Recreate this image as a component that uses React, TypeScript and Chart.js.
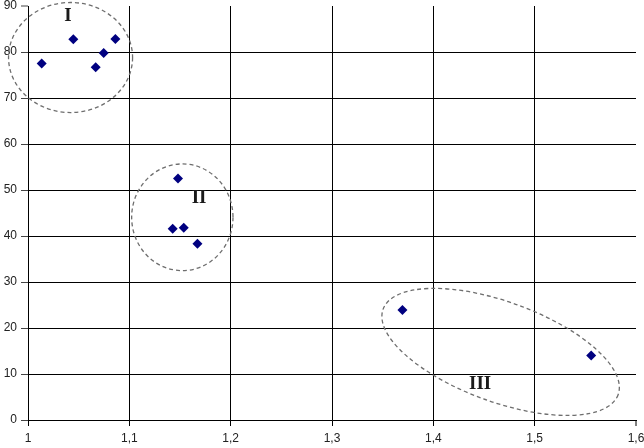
import React, { useEffect, useRef } from "react";
import { Chart, registerables } from "chart.js";

Chart.register(...registerables);

const xValues = [1.0135, 1.0447, 1.0668, 1.0747, 1.0862, 1.148, 1.1428, 1.1537, 1.1672, 1.3695, 1.5558];
const yValues = [77.5, 82.75, 76.7, 79.8, 82.8, 52.5, 41.6, 41.8, 38.3, 23.9, 14.0];

const xTicks = [1, 1.1, 1.2, 1.3, 1.4, 1.5, 1.6];
const xTickLabels = ["1", "1,1", "1,2", "1,3", "1,4", "1,5", "1,6"];
const yTicks = [0, 10, 20, 30, 40, 50, 60, 70, 80, 90];
const yTickLabels = ["0", "10", "20", "30", "40", "50", "60", "70", "80", "90"];

const groupLabels = ["I", "II", "III"];
const groupLabelX = [1.0395, 1.1688, 1.4462];
const groupLabelY = [87.8, 48.3, 7.8];

const ellipsePlugin = {
  id: "groups",
  beforeDatasetsDraw(chart: any) {
    const ctx = chart.ctx;
    const xs = chart.scales.x;
    const ys = chart.scales.y;
    const pxX = (v: number) => xs.getPixelForValue(v);
    const pxY = (v: number) => ys.getPixelForValue(v);
    const kx = Math.abs(pxX(1.1) - pxX(1));
    const ky = Math.abs(pxY(0) - pxY(10));
    ctx.save();
    ctx.strokeStyle = "#6e6e6e";
    ctx.lineWidth = 1.3;
    ctx.setLineDash([4, 3]);
    ctx.beginPath();
    ctx.ellipse(pxX(1.042), pxY(78.8), 0.612 * kx, 1.196 * ky, 0, 0, Math.PI * 2);
    ctx.stroke();
    ctx.beginPath();
    ctx.ellipse(pxX(1.1523), pxY(44.07), 0.5 * kx, 1.16 * ky, 0, 0, Math.PI * 2);
    ctx.stroke();
    ctx.beginPath();
    ctx.ellipse(pxX(1.4664), pxY(14.8), 1.234 * kx, 1.087 * ky, (20 * Math.PI) / 180, 0, Math.PI * 2);
    ctx.stroke();
    ctx.setLineDash([]);
    ctx.fillStyle = "#1a1a1a";
    ctx.font = 'bold 19px "Liberation Serif", "DejaVu Serif", serif';
    ctx.textAlign = "center";
    ctx.textBaseline = "middle";
    groupLabels.forEach((t, i) => {
      ctx.fillText(t, pxX(groupLabelX[i]), pxY(groupLabelY[i]));
    });
    ctx.restore();
  },
};

export default function App() {
  const ref = useRef<HTMLCanvasElement>(null);
  useEffect(() => {
    if (!ref.current) return;
    const data = xValues.map((x, i) => ({ x, y: yValues[i] }));
    const last = (n: number, i: number) => i === n - 1;
    const chart = new Chart(ref.current, {
      type: "scatter",
      data: {
        datasets: [
          {
            data,
            pointStyle: "rectRot",
            pointRadius: 5,
            backgroundColor: "#000080",
            borderColor: "#000080",
            borderWidth: 0,
          },
        ],
      },
      options: {
        animation: false,
        responsive: false,
        maintainAspectRatio: false,
        plugins: { legend: { display: false }, tooltip: { enabled: false } },
        layout: { padding: { top: 6, right: 8, left: 0, bottom: 0 } },
        scales: {
          x: {
            type: "linear",
            min: 1,
            max: 1.6,
            afterBuildTicks: (s: any) => {
              s.ticks = xTicks.map((v) => ({ value: v }));
            },
            afterFit: (s: any) => {
              s.height = 28;
              s.paddingLeft = 0;
              s.paddingRight = 0;
            },
            ticks: {
              autoSkip: false,
              maxRotation: 0,
              padding: 5,
              color: "#222",
              font: { family: '"Liberation Sans", Arial, sans-serif', size: 12 },
              callback: (v: any, i: number) => xTickLabels[i],
            },
            grid: {
              color: xTicks.map((_, i) => (last(xTicks.length, i) ? "rgba(0,0,0,0)" : "#000")),
              lineWidth: xTicks.map((_, i) => (last(xTicks.length, i) ? 0 : 1)),
              tickColor: "#000",
              tickWidth: 1,
              tickLength: 6,
            },
            border: { display: true, color: "#000", width: 1 },
          },
          y: {
            type: "linear",
            min: 0,
            max: 90,
            afterBuildTicks: (s: any) => {
              s.ticks = yTicks.map((v) => ({ value: v }));
            },
            afterFit: (s: any) => {
              s.width = 28;
              s.paddingTop = 0;
              s.paddingBottom = 0;
            },
            ticks: {
              autoSkip: false,
              padding: 4,
              color: "#222",
              font: { family: '"Liberation Sans", Arial, sans-serif', size: 12 },
              callback: (v: any, i: number) => yTickLabels[i],
            },
            grid: {
              color: yTicks.map((_, i) => (last(yTicks.length, i) ? "rgba(0,0,0,0)" : "#000")),
              lineWidth: yTicks.map((_, i) => (last(yTicks.length, i) ? 0 : 1)),
              tickColor: "#444",
              tickWidth: 1,
              tickLength: 7,
            },
            border: { display: true, color: "#000", width: 1 },
          },
        },
      },
      plugins: [ellipsePlugin],
    });
    return () => chart.destroy();
  }, []);
  return (
    <div style={{ position: "fixed", left: 0, top: 0, width: 644, height: 448, background: "#fff" }}>
      <canvas ref={ref} width={644} height={448} style={{ display: "block" }} />
    </div>
  );
}
